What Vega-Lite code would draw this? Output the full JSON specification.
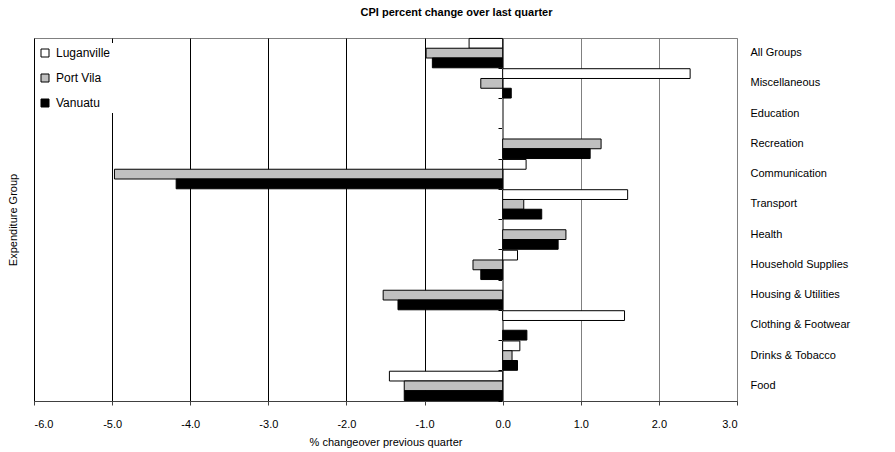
{
  "$schema": "https://vega.github.io/schema/vega-lite/v6.json",
  "width": 703,
  "height": 363,
  "autosize": {"type": "none"},
  "padding": {"left": 34, "top": 38, "right": 158, "bottom": 51},
  "background": "white",
  "title": {
    "text": "CPI percent change over last quarter",
    "font": "Liberation Sans",
    "fontSize": 11,
    "fontWeight": "bold",
    "color": "black",
    "anchor": "middle",
    "offset": 20,
    "dx": 71
  },
  "config": {
    "font": "Liberation Sans",
    "view": {"stroke": "#808080", "strokeWidth": 1}
  },
  "data": {
    "values": [
      {"group": "All Groups", "series": "Luganville", "value": -0.43},
      {"group": "All Groups", "series": "Port Vila", "value": -0.98},
      {"group": "All Groups", "series": "Vanuatu", "value": -0.90},
      {"group": "Miscellaneous", "series": "Luganville", "value": 2.40},
      {"group": "Miscellaneous", "series": "Port Vila", "value": -0.28},
      {"group": "Miscellaneous", "series": "Vanuatu", "value": 0.11},
      {"group": "Education", "series": "Luganville", "value": 0},
      {"group": "Education", "series": "Port Vila", "value": 0},
      {"group": "Education", "series": "Vanuatu", "value": 0},
      {"group": "Recreation", "series": "Luganville", "value": 0},
      {"group": "Recreation", "series": "Port Vila", "value": 1.26},
      {"group": "Recreation", "series": "Vanuatu", "value": 1.12},
      {"group": "Communication", "series": "Luganville", "value": 0.30},
      {"group": "Communication", "series": "Port Vila", "value": -4.97},
      {"group": "Communication", "series": "Vanuatu", "value": -4.18},
      {"group": "Transport", "series": "Luganville", "value": 1.60},
      {"group": "Transport", "series": "Port Vila", "value": 0.27},
      {"group": "Transport", "series": "Vanuatu", "value": 0.50},
      {"group": "Health", "series": "Luganville", "value": 0},
      {"group": "Health", "series": "Port Vila", "value": 0.81},
      {"group": "Health", "series": "Vanuatu", "value": 0.71},
      {"group": "Household Supplies", "series": "Luganville", "value": 0.19},
      {"group": "Household Supplies", "series": "Port Vila", "value": -0.38},
      {"group": "Household Supplies", "series": "Vanuatu", "value": -0.28},
      {"group": "Housing & Utilities", "series": "Luganville", "value": 0},
      {"group": "Housing & Utilities", "series": "Port Vila", "value": -1.53},
      {"group": "Housing & Utilities", "series": "Vanuatu", "value": -1.34},
      {"group": "Clothing & Footwear", "series": "Luganville", "value": 1.56},
      {"group": "Clothing & Footwear", "series": "Port Vila", "value": 0},
      {"group": "Clothing & Footwear", "series": "Vanuatu", "value": 0.31},
      {"group": "Drinks & Tobacco", "series": "Luganville", "value": 0.22},
      {"group": "Drinks & Tobacco", "series": "Port Vila", "value": 0.12},
      {"group": "Drinks & Tobacco", "series": "Vanuatu", "value": 0.19},
      {"group": "Food", "series": "Luganville", "value": -1.45},
      {"group": "Food", "series": "Port Vila", "value": -1.26},
      {"group": "Food", "series": "Vanuatu", "value": -1.26}
    ]
  },
  "transform": [{"filter": "datum.value != 0"}],
  "layer": [
    {
      "mark": {"type": "bar", "stroke": "black", "strokeWidth": 1},
      "encoding": {
        "x": {
          "field": "value",
          "type": "quantitative",
          "scale": {"domain": [-6, 3], "nice": false, "zero": false},
          "axis": {
            "values": [-6, -5, -4, -3, -2, -1, 0, 1, 2, 3],
            "labelExpr": "replace(format(datum.value, '.1f'), '\u2212', '-')",
            "title": "% changeover previous quarter",
            "titleFont": "Liberation Sans",
            "titleFontSize": 11,
            "titleFontWeight": "normal",
            "titleColor": "black",
            "titlePadding": 7,
            "labelFontSize": 11,
            "labelColor": "black",
            "labelPadding": 13,
            "tickSize": 4,
            "tickColor": "#404040",
            "domainColor": "#404040",
            "grid": true,
            "gridColor": {"condition": {"test": "datum.value < 0", "value": "#000000"}, "value": "#808080"},
            "gridOpacity": 1,
            "gridWidth": 1
          }
        },
        "y": {
          "field": "group",
          "type": "nominal",
          "scale": {
            "domain": ["All Groups", "Miscellaneous", "Education", "Recreation", "Communication", "Transport", "Health", "Household Supplies", "Housing & Utilities", "Clothing & Footwear", "Drinks & Tobacco", "Food"],
            "paddingInner": 0.03,
            "paddingOuter": 0.015
          },
          "axis": {
            "orient": "right",
            "title": null,
            "ticks": false,
            "domain": false,
            "grid": false,
            "labelPadding": 13,
            "labelFontSize": 11,
            "labelColor": "black",
            "labelAlign": "left"
          }
        },
        "yOffset": {
          "field": "series",
          "type": "nominal",
          "scale": {"domain": ["Luganville", "Port Vila", "Vanuatu"], "paddingInner": 0, "paddingOuter": 0}
        },
        "fill": {
          "field": "series",
          "type": "nominal",
          "scale": {"domain": ["Luganville", "Port Vila", "Vanuatu"], "range": ["#ffffff", "#c0c0c0", "#000000"]},
          "legend": {
            "title": null,
            "orient": "none",
            "legendX": 1,
            "legendY": 5,
            "fillColor": "white",
            "padding": 4,
            "rowPadding": 13,
            "symbolType": "square",
            "symbolSize": 64,
            "symbolStrokeColor": "black",
            "symbolStrokeWidth": 1,
            "labelFontSize": 12,
            "labelOffset": 5,
            "labelColor": "black"
          }
        }
      }
    },
    {
      "mark": {"type": "point", "opacity": 0},
      "encoding": {
        "x": {"field": "value", "type": "quantitative"},
        "y": {
          "field": "group",
          "type": "nominal",
          "axis": {
            "orient": "left",
            "offset": -468,
            "labels": false,
            "grid": false,
            "tickBand": "extent",
            "tickSize": 4,
            "tickColor": "black",
            "domain": true,
            "domainColor": "#808080",
            "title": "Expenditure Group",
            "titleFont": "Liberation Sans",
            "titleFontSize": 11,
            "titleFontWeight": "normal",
            "titleColor": "black",
            "titleX": -484
          }
        }
      }
    }
  ],
  "resolve": {"axis": {"y": "independent"}}
}
